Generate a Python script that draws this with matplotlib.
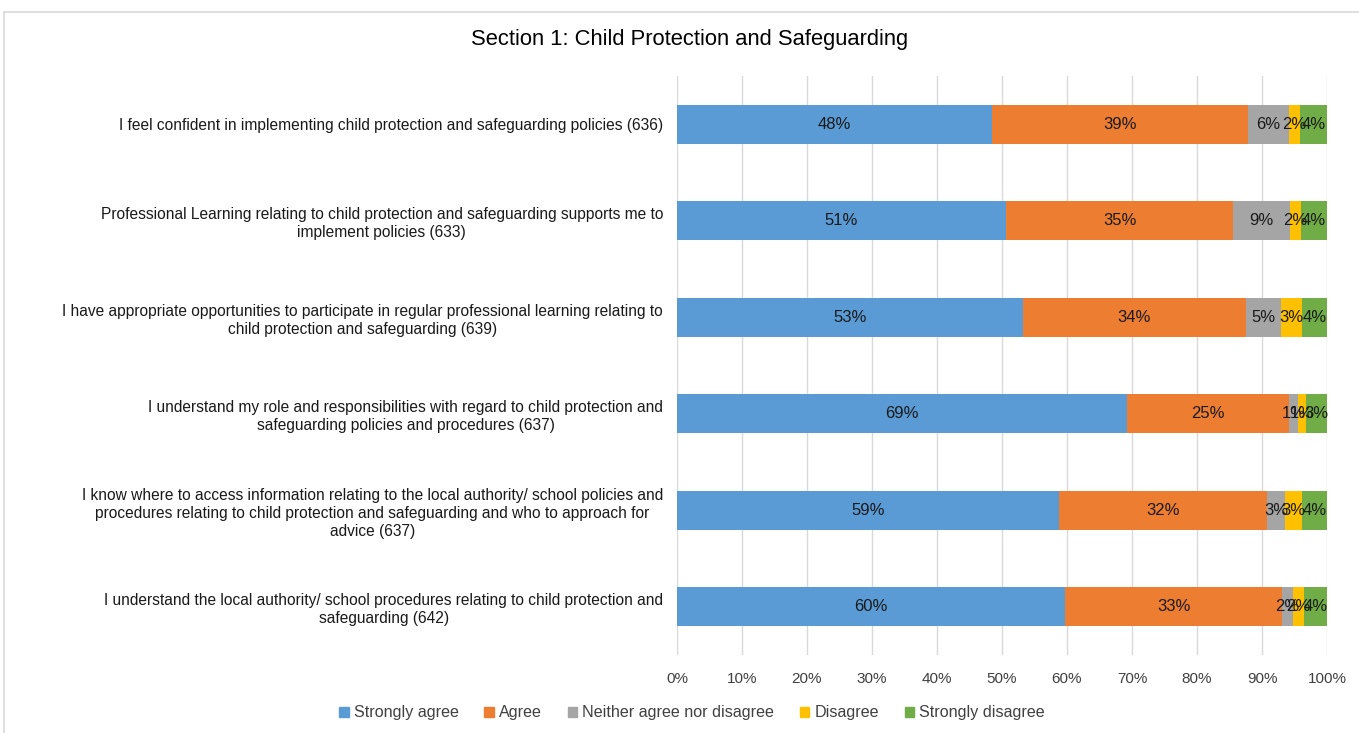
import matplotlib
matplotlib.use("Agg")
import matplotlib.pyplot as plt
import numpy as np
from matplotlib.lines import Line2D

plt.rcParams['font.family'] = ['Liberation Sans', 'DejaVu Sans']

categories = [
    "I feel confident in implementing child protection and safeguarding policies (636)",
    "Professional Learning relating to child protection and safeguarding supports me to\nimplement policies (633)",
    "I have appropriate opportunities to participate in regular professional learning relating to\nchild protection and safeguarding (639)",
    "I understand my role and responsibilities with regard to child protection and\nsafeguarding policies and procedures (637)",
    "I know where to access information relating to the local authority/ school policies and\nprocedures relating to child protection and safeguarding and who to approach for\nadvice (637)",
    "I understand the local authority/ school procedures relating to child protection and\nsafeguarding (642)",
]
series_names = ["Strongly agree", "Agree", "Neither agree nor disagree", "Disagree", "Strongly disagree"]
strongly_agree = [48.4, 50.6, 53.2, 69.2, 58.8, 59.7]
agree = [39.4, 35.0, 34.3, 25.0, 32.0, 33.4]
neither = [6.3, 8.7, 5.4, 1.4, 2.8, 1.6]
disagree = [1.7, 1.7, 3.3, 1.2, 2.6, 1.7]
strongly_disagree = [4.2, 4.0, 3.8, 3.2, 3.8, 3.6]
colors = ["#5B9BD5", "#ED7D31", "#A5A5A5", "#FFC000", "#70AD47"]
xtick_labels = ["0%", "10%", "20%", "30%", "40%", "50%", "60%", "70%", "80%", "90%", "100%"]
title = "Section 1: Child Protection and Safeguarding"

fig = plt.figure(figsize=(13.59, 7.33), dpi=100)
ax = fig.add_axes([677/1359, 1-655/733, 650/1359, 579/733])

series = [strongly_agree, agree, neither, disagree, strongly_disagree]
y = np.arange(len(categories))
left = np.zeros(len(categories))
for name, vals, c in zip(series_names, series, colors):
    vals = np.array(vals)
    ax.barh(y, vals, left=left, height=0.40, color=c, label=name, zorder=3)
    for yi, l, v in zip(y, left, vals):
        ax.text(l + v/2, yi, f"{v:.0f}%", ha='center', va='center', fontsize=12,
                color='#1a1a1a', zorder=4)
    left += vals

ax.set_xlim(0, 100)
ax.set_ylim(len(categories) - 0.5, -0.5)
ax.set_xticks(np.arange(0, 101, 10))
ax.set_xticklabels(xtick_labels, fontsize=11, color='#404040')
ax.set_yticks(y)
ax.set_yticklabels(categories, fontsize=11.2, color='#1a1a1a', multialignment='center',
                   linespacing=1.25)
ax.tick_params(axis='both', length=0)
ax.tick_params(axis='x', pad=12)
ax.tick_params(axis='y', pad=10)
ax.grid(axis='x', color='#D9D9D9', linewidth=1, zorder=0)
for s in ax.spines.values():
    s.set_visible(False)

fig.text(690/1359, 1-40/733, title, ha='center', va='center', fontsize=15.8, color='#000000')

handles = [plt.Rectangle((0, 0), 1, 1, color=c) for c in colors]
leg = fig.legend(handles, series_names, loc='center', bbox_to_anchor=(692/1359, 1-713/733),
                 ncol=5, frameon=False, fontsize=11.6, handlelength=0.6, handleheight=0.6,
                 handletextpad=0.3, columnspacing=1.6)
for t in leg.get_texts():
    t.set_color('#404040')

fig.add_artist(Line2D([4/1359, 4/1359], [0, 1-12/733], color='#D9D9D9', lw=1.2, transform=fig.transFigure))
fig.add_artist(Line2D([4/1359, 1], [1-12/733, 1-12/733], color='#D9D9D9', lw=1.2, transform=fig.transFigure))

fig.savefig("out.png", dpi=100)
